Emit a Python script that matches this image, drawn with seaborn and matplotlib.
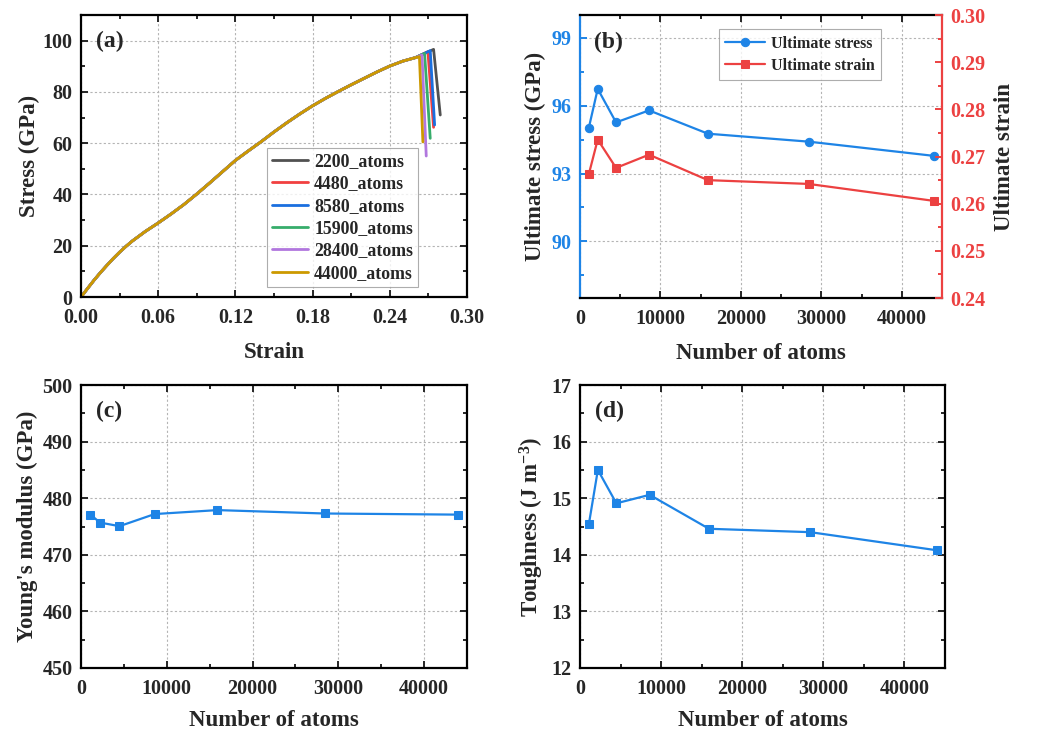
import numpy as np
import pandas as pd
import matplotlib
matplotlib.use("Agg")
import matplotlib.pyplot as plt
from matplotlib.ticker import MultipleLocator, FormatStrFormatter
import seaborn as sns

# ---------------- data ----------------
# (a) stress-strain curves: common loading path + per-series tail (peak, fracture end)
common_strain = [0, 0.005, 0.01, 0.015, 0.02, 0.025, 0.03, 0.035, 0.04, 0.05, 0.06,
                 0.07, 0.08, 0.09, 0.10, 0.11, 0.12, 0.13, 0.14, 0.15, 0.16, 0.17,
                 0.18, 0.19, 0.20, 0.21, 0.22, 0.23, 0.24, 0.25, 0.26]
common_stress = [0, 3.3, 6.5, 9.5, 12.3, 15.0, 17.5, 19.8, 21.9, 25.6, 28.9,
                 32.4, 36.1, 40.2, 44.5, 48.9, 53.3, 57.0, 60.6, 64.4, 68.0, 71.4,
                 74.6, 77.5, 80.2, 82.8, 85.3, 87.8, 90.1, 92.0, 93.4]
series_names = ["2200_atoms", "4480_atoms", "8580_atoms", "15900_atoms", "28400_atoms", "44000_atoms"]
peak_strain = [0.274, 0.2696, 0.2714, 0.267, 0.265, 0.263]
peak_stress = [96.6, 95.7, 96.1, 95.0, 94.4, 93.75]
end_strain = [0.2792, 0.274, 0.2748, 0.2714, 0.2683, 0.2657]
end_stress = [71.0, 66.2, 67.1, 61.9, 55.0, 60.5]
series_colors = ["#515151", "#F14040", "#1A6FDF", "#37AD6B", "#B177DE", "#CC9900"]

# (b)-(d) vs number of atoms
atoms = [1100, 2200, 4480, 8580, 15900, 28400, 44000]
ult_stress = [95.03, 96.74, 95.26, 95.79, 94.76, 94.41, 93.78]
ult_strain = [0.2663, 0.2736, 0.2676, 0.2704, 0.2650, 0.2642, 0.2606]
youngs = [477.1, 475.7, 475.06, 477.2, 477.9, 477.3, 477.1]
toughness = [14.55, 15.50, 14.91, 15.06, 14.46, 14.40, 14.08]

BLUE = "#1E84E6"
RED = "#EC4141"

# ---------------- style ----------------
sns.set_theme(style="ticks")
plt.rcParams["font.family"] = ["Liberation Serif", "DejaVu Serif"]
plt.rcParams["font.weight"] = "bold"
plt.rcParams["axes.labelweight"] = "bold"
plt.rcParams["mathtext.default"] = "regular"
plt.rcParams["axes.linewidth"] = 1.6

fig = plt.figure(figsize=(10.54, 7.33), dpi=100)
axA = fig.add_axes([0.0769, 0.5948, 0.3662, 0.3847])
axB = fig.add_axes([0.5503, 0.5934, 0.3435, 0.3860])
axC = fig.add_axes([0.0769, 0.0887, 0.3662, 0.3860])
axD = fig.add_axes([0.5503, 0.0887, 0.3463, 0.3860])

TICK_FS = 14.5
LABEL_FS = 16.5
GRID_KW = dict(color="#b4b4b4", linestyle=(0, (2, 2)), linewidth=0.8)


def style_axes(ax, right=True):
    ax.grid(True, which="major", **GRID_KW)
    ax.set_axisbelow(True)
    ax.tick_params(which="both", direction="in", top=True, right=right,
                   labelsize=TICK_FS, width=1.4)
    ax.tick_params(which="major", length=5)
    ax.tick_params(which="minor", length=3)
    ax.tick_params(axis="x", which="major", pad=8)
    ax.tick_params(axis="y", which="major", pad=6)
    for lbl in ax.get_xticklabels() + ax.get_yticklabels():
        lbl.set_fontweight("bold")
    for sp in ax.spines.values():
        sp.set_visible(True)
        sp.set_linewidth(1.6)
        sp.set_color("black")


def panel_label(ax, text):
    ax.text(0.04, 0.905, text, transform=ax.transAxes, fontsize=17, fontweight="bold",
            va="center", ha="left")


# ---------------- (a) ----------------
rows = []
for i, name in enumerate(series_names):
    idx = [j for j, s in enumerate(common_strain) if s < peak_strain[i] - 0.001]
    xs = [common_strain[j] for j in idx] + [peak_strain[i], end_strain[i]]
    ys = [common_stress[j] for j in idx] + [peak_stress[i], end_stress[i]]
    for x, y in zip(xs, ys):
        rows.append({"strain": x, "stress": y, "series": name})
dfA = pd.DataFrame(rows)
sns.lineplot(data=dfA, x="strain", y="stress", hue="series", hue_order=series_names,
             palette=series_colors, estimator=None, sort=False, linewidth=2.0, ax=axA)
axA.set_xlim(0, 0.30)
axA.set_ylim(0, 110)
axA.xaxis.set_major_locator(MultipleLocator(0.06))
axA.xaxis.set_minor_locator(MultipleLocator(0.03))
axA.yaxis.set_major_locator(MultipleLocator(20))
axA.yaxis.set_minor_locator(MultipleLocator(10))
axA.xaxis.set_major_formatter(FormatStrFormatter("%.2f"))
axA.set_xlabel("Strain", fontsize=LABEL_FS, labelpad=10)
axA.set_ylabel("Stress (GPa)", fontsize=LABEL_FS, labelpad=2)
style_axes(axA)
panel_label(axA, "(a)")
leg = axA.legend(loc="lower left", bbox_to_anchor=(0.482, 0.035), borderaxespad=0,
                 fontsize=12.8, frameon=True, fancybox=False, edgecolor="#999999",
                 handlelength=2.0, handletextpad=0.35, labelspacing=0.3, borderpad=0.3,
                 title=None)
leg.get_frame().set_linewidth(0.8)
for t in leg.get_texts():
    t.set_fontweight("bold")
for h in leg.get_lines():
    h.set_linewidth(2.0)

# ---------------- (b) ----------------
dfB = pd.DataFrame({"atoms": atoms, "stress": ult_stress, "strain": ult_strain})
axB2 = axB.twinx()
sns.lineplot(data=dfB, x="atoms", y="stress", color=BLUE, marker="o", markersize=6,
             markeredgecolor=BLUE, linewidth=1.6, ax=axB, label="Ultimate stress", legend=False)
sns.lineplot(data=dfB, x="atoms", y="strain", color=RED, marker="s", markersize=5.5,
             markeredgecolor=RED, linewidth=1.6, ax=axB2, label="Ultimate strain", legend=False)
axB.set_xlim(0, 45000)
axB.set_ylim(87.5, 100)
axB2.set_ylim(0.24, 0.30)
axB.xaxis.set_major_locator(MultipleLocator(10000))
axB.xaxis.set_minor_locator(MultipleLocator(5000))
axB.yaxis.set_major_locator(MultipleLocator(3))
axB.yaxis.set_minor_locator(MultipleLocator(1.5))
axB2.yaxis.set_major_locator(MultipleLocator(0.01))
axB2.yaxis.set_minor_locator(MultipleLocator(0.005))
axB2.yaxis.set_major_formatter(FormatStrFormatter("%.2f"))
axB.set_xlabel("Number of atoms", fontsize=LABEL_FS, labelpad=10)
axB.set_ylabel("Ultimate stress (GPa)", fontsize=LABEL_FS, labelpad=4)
axB2.set_ylabel("Ultimate strain", fontsize=LABEL_FS, labelpad=6)
style_axes(axB, right=False)
axB.spines["left"].set_color(BLUE)
axB.spines["right"].set_visible(False)
axB.tick_params(axis="y", which="both", colors=BLUE)
axB2.tick_params(which="both", direction="in", labelsize=TICK_FS, width=1.4, colors=RED)
axB2.tick_params(which="major", length=5, pad=6)
axB2.tick_params(which="minor", length=3)
for lbl in axB2.get_yticklabels():
    lbl.set_fontweight("bold")
axB2.spines["right"].set_color(RED)
axB2.spines["right"].set_linewidth(1.6)
for s in ["left", "top", "bottom"]:
    axB2.spines[s].set_visible(False)
axB2.grid(False)
h1, l1 = axB.get_legend_handles_labels()
h2, l2 = axB2.get_legend_handles_labels()
legB = axB.legend(h1 + h2, l1 + l2, loc="upper left", bbox_to_anchor=(0.384, 0.95),
                  borderaxespad=0, fontsize=11.5, frameon=True, fancybox=False,
                  edgecolor="#999999", handlelength=2.5, handletextpad=0.35,
                  labelspacing=0.4, borderpad=0.4)
legB.get_frame().set_linewidth(0.8)
for t in legB.get_texts():
    t.set_fontweight("bold")
panel_label(axB, "(b)")

# ---------------- (c) ----------------
dfC = pd.DataFrame({"atoms": atoms, "E": youngs})
sns.lineplot(data=dfC, x="atoms", y="E", color=BLUE, marker="s", markersize=6,
             markeredgecolor=BLUE, linewidth=1.6, ax=axC)
axC.set_xlim(0, 45000)
axC.set_ylim(450, 500)
axC.xaxis.set_major_locator(MultipleLocator(10000))
axC.xaxis.set_minor_locator(MultipleLocator(5000))
axC.yaxis.set_major_locator(MultipleLocator(10))
axC.yaxis.set_minor_locator(MultipleLocator(5))
axC.set_xlabel("Number of atoms", fontsize=LABEL_FS, labelpad=8)
axC.set_ylabel("Young's modulus (GPa)", fontsize=LABEL_FS, labelpad=3)
style_axes(axC)
panel_label(axC, "(c)")

# ---------------- (d) ----------------
dfD = pd.DataFrame({"atoms": atoms, "T": toughness})
sns.lineplot(data=dfD, x="atoms", y="T", color=BLUE, marker="s", markersize=6,
             markeredgecolor=BLUE, linewidth=1.6, ax=axD)
axD.set_xlim(0, 45000)
axD.set_ylim(12, 17)
axD.xaxis.set_major_locator(MultipleLocator(10000))
axD.xaxis.set_minor_locator(MultipleLocator(5000))
axD.yaxis.set_major_locator(MultipleLocator(1))
axD.yaxis.set_minor_locator(MultipleLocator(0.5))
axD.set_xlabel("Number of atoms", fontsize=LABEL_FS, labelpad=8)
axD.set_ylabel("Toughness (J m$^{-3}$)", fontsize=LABEL_FS, labelpad=4)
style_axes(axD)
panel_label(axD, "(d)")

fig.savefig("out.png", dpi=100)
